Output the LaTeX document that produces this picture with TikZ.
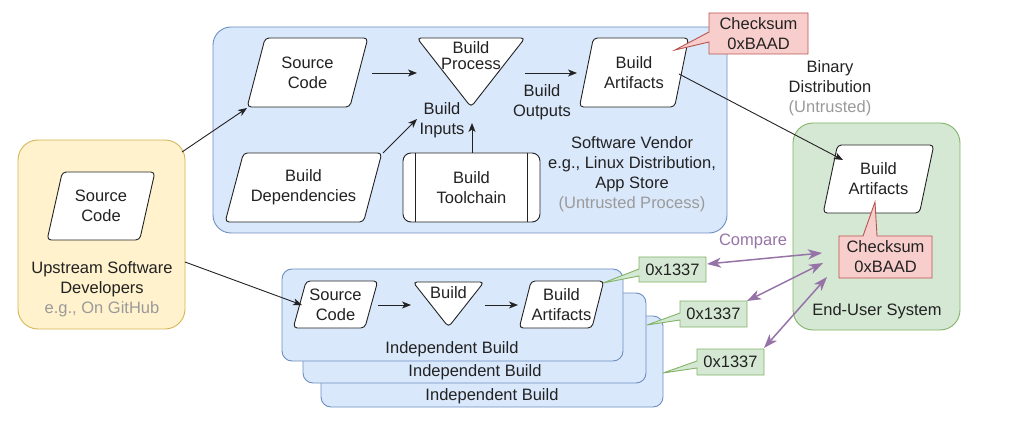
\documentclass[tikz,border=0pt]{standalone}
\usepackage{fontspec}
\setmainfont{Liberation Sans}
\usetikzlibrary{shapes.geometric,arrows.meta,calc}
\definecolor{bfill}{HTML}{DAE8FC}
\definecolor{bline}{HTML}{6C8EBF}
\definecolor{yfill}{HTML}{FFF2CC}
\definecolor{yline}{HTML}{D6B656}
\definecolor{gfill}{HTML}{D5E8D4}
\definecolor{gline}{HTML}{82B366}
\definecolor{rfill}{HTML}{F8CECC}
\definecolor{rline}{HTML}{B85450}
\definecolor{purp}{HTML}{9673A6}
\definecolor{txt}{HTML}{222222}
\definecolor{gtxt}{HTML}{9A9A9A}
\begin{document}
\begin{tikzpicture}[x=1pt,y=-1pt,
  every node/.style={font=\fontsize{16.5}{20}\selectfont, text=txt, align=center, inner sep=0pt},
  para/.style={trapezium, trapezium stretches=true, draw=txt, fill=white, line width=0.9pt,
    rounded corners=4pt, inner sep=0pt},
  whiteshape/.style={draw=txt, fill=white, line width=0.9pt, rounded corners=4pt},
  bluebox/.style={draw=bline, fill=bfill, line width=0.9pt},
  callr/.style={draw=rline, fill=rfill, line width=0.9pt},
  callg/.style={draw=gline, fill=gfill, line width=0.9pt},
  arr/.style={draw=txt, line width=0.9pt, -{Stealth[length=9pt,width=7pt,inset=2.5pt]}},
  parr/.style={draw=purp, line width=1.5pt,
    {Stealth[length=14pt,width=10pt,inset=4pt]}-{Stealth[length=14pt,width=10pt,inset=4pt]}},
  gray/.style={text=gtxt}
]
\useasboundingbox (0,0) rectangle (1022,438);

% ---------- containers ----------
\draw[bluebox, rounded corners=18pt] (213,27) rectangle (727,233);
\draw[draw=yline, fill=yfill, line width=0.9pt, rounded corners=20pt] (18,140) rectangle (185,329);
\draw[draw=gline, fill=gfill, line width=0.9pt, rounded corners=20pt] (793,123) rectangle (960,330);

\draw[bluebox, rounded corners=10pt] (321,316) rectangle (663,407);
\node (ib3) at (492,396) {Independent Build};
\draw[bluebox, rounded corners=10pt] (303,293) rectangle (646,383);
\node (ib2) at (475,372) {Independent Build};
\draw[bluebox, rounded corners=10pt] (282,269) rectangle (623,361);
\node (ib1) at (452,349) {Independent Build};

% ---------- upstream ----------
\node[para, minimum width=108pt, minimum height=68pt, trapezium left angle=72, trapezium right angle=108]
  (usc) at (101,206) {Source\\Code};
\node (uplab) at (102,289) {Upstream Software\\Developers\\\textcolor{gtxt}{e.g., On GitHub}};

% ---------- vendor ----------
\node[para, minimum width=121pt, minimum height=69pt, trapezium left angle=70.7, trapezium right angle=109.3]
  (vsc) at (307.5,72.5) {Source\\Code};
\node[para, minimum width=157pt, minimum height=69pt, trapezium left angle=65.5, trapezium right angle=114.5]
  (vbd) at (303.5,187.5) {Build\\Dependencies};
\draw[whiteshape] (417,38) -- (525,38) -- (471,107) -- cycle;
\node (bp) at (471,56) {Build\\[-4pt]Process};
\node[draw=txt, fill=white, line width=0.9pt, rounded corners=8pt, minimum width=137pt, minimum height=69pt]
  (tc) at (471.5,187.5) {Build\\Toolchain};
\draw[txt, line width=0.9pt] ([xshift=13pt]tc.north west) -- ([xshift=13pt]tc.south west);
\draw[txt, line width=0.9pt] ([xshift=-13pt]tc.north east) -- ([xshift=-13pt]tc.south east);
\node (bin) at (442,120) {Build\\Inputs};
\node (bout) at (542,102) {Build\\Outputs};
\node[para, minimum width=110pt, minimum height=69pt, trapezium left angle=72.3, trapezium right angle=107.7]
  (vba) at (634,72.5) {Build\\Artifacts};
\node (vlab) at (632,174) {Software Vendor\\e.g., Linux Distribution,\\App Store\\\textcolor{gtxt}{(Untrusted Process)}};
\node (bdist) at (830,88) {Binary\\Distribution\\\textcolor{gtxt}{(Untrusted)}};

% ---------- end user ----------
\node[para, minimum width=111pt, minimum height=68pt, trapezium left angle=72, trapezium right angle=108]
  (eba) at (878.5,179) {Build\\Artifacts};
\node (eus) at (877,311) {End-User System};

% ---------- independent build 1 ----------
\node[para, minimum width=85pt, minimum height=47pt, trapezium left angle=70, trapezium right angle=110]
  (isc) at (335.5,304.5) {Source\\Code};
\draw[whiteshape] (413,282) -- (484,282) -- (448.5,327) -- cycle;
\node (ib) at (448.5,293) {Build};
\node[para, minimum width=85pt, minimum height=47pt, trapezium left angle=70, trapezium right angle=110]
  (iba) at (561.5,304.5) {Build\\Artifacts};

% ---------- callouts ----------
\draw[callr] (709,13) -- (808,13) -- (808,54) -- (709,54) -- (709,42) -- (675,50) -- (709,32) -- cycle;
\node (ck1) at (758.5,33.5) {Checksum\\0xBAAD};
\draw[callr] (839,236) -- (863,236) -- (875,202) -- (877,236) -- (932,236) -- (932,278) -- (839,278) -- cycle;
\node (ck2) at (885.5,257) {Checksum\\0xBAAD};

\draw[callg] (639,257) -- (706,257) -- (706,282) -- (639,282) -- (639,276) -- (603,283) -- (639,269) -- cycle;
\node (g1) at (672.5,269.5) {0x1337};
\draw[callg] (680,301) -- (747,301) -- (747,327) -- (680,327) -- (680,320) -- (647,325) -- (680,313) -- cycle;
\node (g2) at (713.5,314) {0x1337};
\draw[callg] (697,349) -- (764,349) -- (764,375) -- (697,375) -- (697,368) -- (663,373) -- (697,361) -- cycle;
\node (g3) at (730.5,362) {0x1337};

% ---------- connector end points ----------
\coordinate (uout1) at (182,152);
\coordinate (vscin) at (247,108);
\coordinate (uout2) at (185,262);
\coordinate (iscin) at (302,305);
\coordinate (vscout) at (372,73);
\coordinate (bpin) at (417,73);
\coordinate (bpout) at (525,73);
\coordinate (vbain) at (577,73);
\coordinate (vbdout) at (383,153);
\coordinate (binin) at (417,119);
\coordinate (tcout) at (472,153);
\coordinate (binin2) at (472,123);
\coordinate (vbaout) at (679,74);
\coordinate (ebain) at (843,160);
\coordinate (iscout) at (378,305);
\coordinate (ibin) at (411,305);
\coordinate (ibout) at (485,305);
\coordinate (ibain) at (518,305);
\coordinate (g1o) at (707,264);
\coordinate (e1) at (822,253);
\coordinate (g2o) at (747,301);
\coordinate (e2) at (823,263);
\coordinate (g3o) at (764,348);
\coordinate (e3) at (827,277);

% ---------- connectors ----------
\draw[arr] (uout1) -- (vscin);
\draw[arr] (uout2) -- (iscin);
\draw[arr] (vscout) -- (bpin);
\draw[arr] (bpout) -- (vbain);
\draw[arr] (vbdout) -- (binin);
\draw[arr] (tcout) -- (binin2);
\draw[arr] (vbaout) -- (ebain);
\draw[arr] (iscout) -- (ibin);
\draw[arr] (ibout) -- (ibain);
\draw[parr] (g1o) -- (e1);
\draw[parr] (g2o) -- (e2);
\draw[parr] (g3o) -- (e3);
\node[text=purp] (cmp) at (753,241) {Compare};
\end{tikzpicture}
\end{document}
